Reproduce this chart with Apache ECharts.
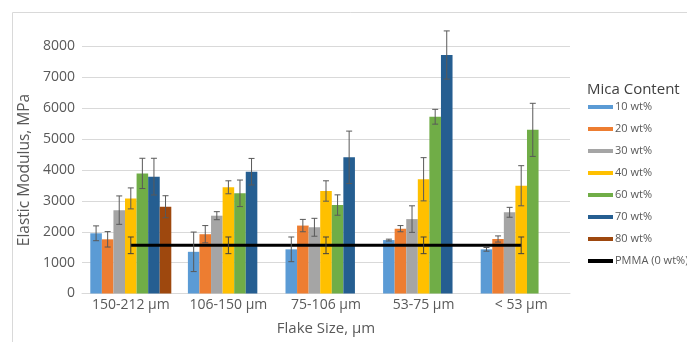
<!DOCTYPE html>
<html><head><meta charset="utf-8">
<script src="https://cdn.jsdelivr.net/npm/echarts@6/dist/echarts.min.js"></script>
<style>html,body{margin:0;padding:0;background:#fff}#c{width:687px;height:342px}</style>
</head><body><div id="c"></div>
<script>
var categories = ['150-212 µm', '106-150 µm', '75-106 µm', '53-75 µm', '< 53 µm'];
var seriesNames = ['10 wt%', '20 wt%', '30 wt%', '40 wt%', '60 wt%', '70 wt%', '80 wt%'];
var v10 = [1950, 1350, 1430, 1730, 1430];
var v20 = [1755, 1920, 2200, 2100, 1765];
var v30 = [2700, 2520, 2145, 2410, 2630];
var v40 = [3080, 3440, 3320, 3700, 3490];
var v60 = [3890, 3245, 2865, 5725, 5300];
var v70 = [3785, 3945, 4410, 7725, null];
var v80 = [2810, null, null, null, null];
var e10 = [240, 640, 400, 30, 60];
var e20 = [250, 280, 200, 100, 100];
var e30 = [460, 130, 290, 430, 160];
var e40 = [340, 210, 330, 700, 650];
var e60 = [490, 430, 330, 240, 860];
var e70 = [595, 430, 850, 780, null];
var e80 = [357, null, null, null, null];
var pmma = [1560, 1560, 1560, 1560, 1560];
var pmmaErr = [270, 270, 270, 270, 270];
var yTicks = [0, 1000, 2000, 3000, 4000, 5000, 6000, 7000, 8000];

var values = [v10, v20, v30, v40, v60, v70, v80];
var errors = [e10, e20, e30, e40, e60, e70, e80];
var colors = ['#5B9BD5', '#ED7D31', '#A5A5A5', '#FFC000', '#70AD47', '#255E91', '#9E480E'];
var GAP = 0.17, NS = 7;
var FONT = '"Open Sans", sans-serif';

function errSeries(vals, errs, idx, color, z) {
  var data = [];
  for (var i = 0; i < vals.length; i++) {
    if (vals[i] != null) data.push([i, vals[i], errs[i]]);
  }
  return {
    type: 'custom', z: z, silent: true,
    renderItem: function (params, api) {
      var xi = api.value(0), v = api.value(1), e = api.value(2);
      var band = api.size([1, 0])[0];
      var bw = band * (1 - GAP) / NS;
      var c = api.coord([xi, v]);
      var x = c[0] + (idx - (NS - 1) / 2) * bw;
      var top = api.coord([xi, v + e])[1], bot = api.coord([xi, v - e])[1];
      var cap = 3;
      var st = {stroke: color, lineWidth: 1};
      return {type: 'group', children: [
        {type: 'line', shape: {x1: x, y1: top, x2: x, y2: bot}, style: st},
        {type: 'line', shape: {x1: x - cap, y1: top, x2: x + cap, y2: top}, style: st},
        {type: 'line', shape: {x1: x - cap, y1: bot, x2: x + cap, y2: bot}, style: st}
      ]};
    },
    encode: {x: 0, y: 1},
    data: data
  };
}

var series = [];
for (var s = 0; s < NS; s++) {
  series.push({
    type: 'bar', name: seriesNames[s], barGap: 0, barCategoryGap: (GAP * 100) + '%',
    itemStyle: {color: colors[s]},
    data: values[s].map(function (v) { return v == null ? '-' : v; })
  });
}
series.push({
  type: 'line', name: 'PMMA (0 wt%)', data: pmma, symbol: 'none', z: 4,
  lineStyle: {color: '#000', width: 3}, itemStyle: {color: '#000'}
});
for (var s2 = 0; s2 < NS; s2++) series.push(errSeries(values[s2], errors[s2], s2, '#595959', 5));
series.push(errSeries(pmma, pmmaErr, 3, '#404040', 6));

var legendData = seriesNames.map(function (n, i) { return {name: n, icon: 'rect'}; });
legendData.push({name: 'PMMA (0 wt%)', icon: 'rect', itemStyle: {color: '#000'}});

var chart = echarts.init(document.getElementById('c'), null, {renderer: 'canvas'});
chart.setOption({
  animation: false,
  title: {text: 'Mica Content', left: 582, top: 77, textStyle: {fontFamily: FONT, fontSize: 15, fontWeight: 'normal', color: '#404040'}},
  graphic: [{type: 'rect', shape: {x: 12.5, y: 12.5, width: 700, height: 360}, style: {fill: 'none', stroke: '#d9d9d9', lineWidth: 1}, silent: true}],
  legend: {
    orient: 'vertical', left: 583, top: 95, itemWidth: 25, itemHeight: 4, itemGap: 8, selectedMode: false,
    textStyle: {fontFamily: FONT, fontSize: 11, color: '#595959', lineHeight: 14, padding: [0, 0, 0, -3]},
    data: legendData
  },
  grid: {left: 82, right: 117, top: 46.5, bottom: 48.5},
  xAxis: {
    type: 'category', data: categories,
    axisLine: {lineStyle: {color: '#d9d9d9', width: 1}}, axisTick: {show: false},
    axisLabel: {fontFamily: FONT, fontSize: 14, color: '#595959', margin: 5, interval: 0},
    name: 'Flake Size, µm', nameLocation: 'middle', nameGap: 28,
    nameTextStyle: {fontFamily: FONT, fontSize: 15, color: '#595959'}
  },
  yAxis: {
    type: 'value', min: yTicks[0], max: yTicks[yTicks.length - 1], interval: 1000,
    axisLine: {show: false}, axisTick: {show: false},
    splitLine: {lineStyle: {color: '#d9d9d9', width: 1}},
    axisLabel: {fontFamily: FONT, fontSize: 14, color: '#595959', margin: 7, formatter: function (v) { return String(v); }},
    name: 'Elastic Modulus, MPa', nameLocation: 'middle', nameGap: 42,
    nameTextStyle: {fontFamily: FONT, fontSize: 15.5, color: '#595959'}
  },
  series: series
});
</script></body></html>
